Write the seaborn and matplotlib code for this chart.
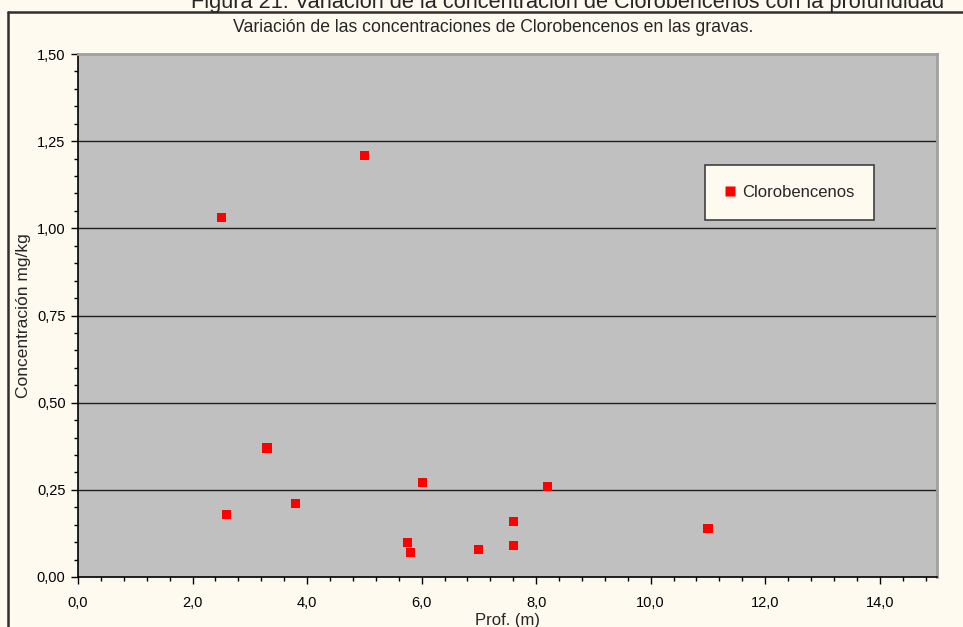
import matplotlib
matplotlib.use("Agg")
import matplotlib.pyplot as plt
import seaborn as sns
import pandas as pd
from matplotlib.ticker import MultipleLocator, FuncFormatter
from matplotlib.lines import Line2D

sns.set_style("white")
plt.rcParams['font.family'] = ['Liberation Sans', 'DejaVu Sans']

profundidad = [2.5, 5.0, 3.3, 2.6, 3.8, 6.02, 8.2, 5.76, 5.81, 7.0, 7.6, 7.6, 11.0]
concentracion = [1.03, 1.21, 0.37, 0.18, 0.21, 0.27, 0.26, 0.10, 0.07, 0.08, 0.16, 0.09, 0.14]
serie = "Clorobencenos"

df = pd.DataFrame({"Prof": profundidad, "Conc": concentracion})

W, H = 963, 627
fig = plt.figure(figsize=(W / 100, H / 100), dpi=100)
fig.patch.set_facecolor('#FFFAF0')

left, right, top, bottom = 78, 937, 54, 577
ax = fig.add_axes([left / W, 1 - bottom / H, (right - left) / W, (bottom - top) / H])
ax.set_facecolor('#C0C0C0')

for yv in [0.25, 0.5, 0.75, 1.0, 1.25]:
    ax.axhline(yv, color='#202020', lw=1.0, zorder=1)

sns.scatterplot(data=df, x="Prof", y="Conc", marker='s', s=44, color='#FF0000',
                edgecolor='none', linewidth=0, ax=ax, zorder=3, legend=False)

ax.set_xlim(0, 15)
ax.set_ylim(0, 1.5)
ax.xaxis.set_major_locator(MultipleLocator(2))
ax.xaxis.set_minor_locator(MultipleLocator(0.4))
ax.yaxis.set_major_locator(MultipleLocator(0.25))
ax.yaxis.set_minor_locator(MultipleLocator(0.05))
ax.xaxis.set_major_formatter(FuncFormatter(lambda v, p: f"{v:.1f}".replace('.', ',')))
ax.yaxis.set_major_formatter(FuncFormatter(lambda v, p: f"{v:.2f}".replace('.', ',')))

ax.tick_params(axis='both', which='major', direction='out', length=5, width=1,
               color='black', labelsize=10.5, labelcolor='black')
ax.tick_params(axis='both', which='minor', direction='out', length=3, width=1, color='black')
ax.tick_params(axis='x', which='major', pad=9)
ax.tick_params(axis='y', which='major', pad=4)
ax.tick_params(bottom=True, left=True, which='both')

for s in ['left', 'bottom']:
    ax.spines[s].set_color('black')
    ax.spines[s].set_linewidth(1.2)
for s in ['top', 'right']:
    ax.spines[s].set_color('#A0A0A0')
    ax.spines[s].set_linewidth(2)

ax.set_xlabel("Prof. (m)", fontsize=12, labelpad=2)
ax.set_ylabel("Concentración mg/kg", fontsize=12.5, labelpad=4)

fig.text(493 / W, 1 - 28 / H, "Variación de las concentraciones de Clorobencenos en las gravas.",
         ha='center', va='center', fontsize=12.7)
fig.text(568 / W, 1 - 8 / H, "Figura 21. Variación de la concentración de Clorobencenos con la profundidad",
         ha='center', va='baseline', fontsize=15.7)

# outer frame (cut at right and bottom)
fig.add_artist(Line2D([8 / W, 1.0], [1 - 12 / H, 1 - 12 / H], transform=fig.transFigure,
                      color='#303030', lw=1.8))
fig.add_artist(Line2D([8 / W, 8 / W], [0, 1 - 12 / H], transform=fig.transFigure,
                      color='#303030', lw=1.8))

handle = Line2D([], [], marker='s', linestyle='none', markerfacecolor='#FF0000',
                markeredgecolor='none', markersize=6.5, label=serie)
leg = ax.legend(handles=[handle], loc='center',
                bbox_to_anchor=(789.5 / W, 1 - 192.5 / H),
                bbox_transform=fig.transFigure, frameon=True, fancybox=False,
                fontsize=12, handlelength=0.7, handletextpad=0.35, borderpad=1.2,
                borderaxespad=0)
leg.get_frame().set_facecolor('#FFFAF0')
leg.get_frame().set_edgecolor('#404040')
leg.get_frame().set_linewidth(1.2)
leg.get_frame().set_alpha(1)
leg._legend_box.sep = 0

fig.savefig("out.png", dpi=100, facecolor=fig.get_facecolor())
